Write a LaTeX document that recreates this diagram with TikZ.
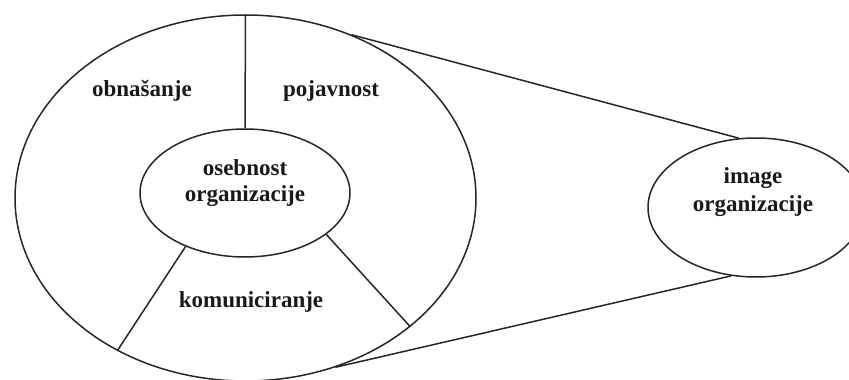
\documentclass[tikz,border=0pt]{standalone}
\usepackage{fontspec}
\setmainfont{Liberation Serif}
\usetikzlibrary{shapes.geometric}
\begin{document}
\begin{tikzpicture}[x=1pt, y=-1pt, line width=1.5pt, line join=round,
  ring/.style={draw=black!85, ellipse, inner sep=0pt},
  lbl/.style={font=\fontsize{23}{26}\selectfont\bfseries, text=black!90, inner sep=0pt, align=center, anchor=base}]
\useasboundingbox (0,0) rectangle (849,380);
% the three ellipses
\node[ring, minimum width=461, minimum height=366] (outer) at (245.5,198) {};
\node[ring, minimum width=210, minimum height=128] (core) at (245,193) {};
\node[ring, minimum width=216, minimum height=139] (image) at (756,207.5) {};
% dividers of the outer ring
\draw[black!85] (outer.north) -- (core.north);
\draw[black!85] (core.222) -- (outer.230);
\draw[black!85] (core.-27) -- (outer.-38.2);
% lines joining the outer ring to the image ellipse
\draw[black!85] (outer.57.8) -- (image.104.7);
\draw[black!85] (outer.-62.3) -- (image.250.5);
% labels (base = baseline of the last line)
\node[lbl] (t1) at (142,96) {obnašanje};
\node[lbl] (t2) at (331,96) {pojavnost};
\node[lbl] (t3) at (245,201) {osebnost\\organizacije};
\node[lbl] (t4) at (251,307.5) {komuniciranje};
\node[lbl, font=\fontsize{23}{28}\selectfont\bfseries] (t5) at (753,211) {image\\organizacije};
\end{tikzpicture}
\end{document}
